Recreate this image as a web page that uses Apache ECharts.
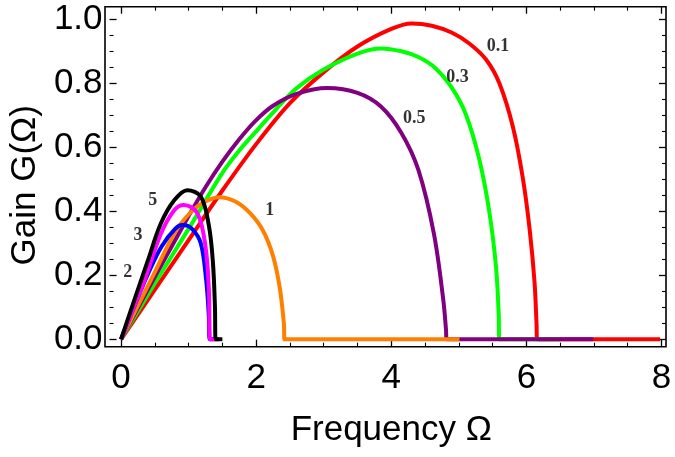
<!DOCTYPE html>
<html>
<head>
<meta charset="utf-8">
<script src="https://cdn.jsdelivr.net/npm/echarts@6/dist/echarts.min.js"></script>
<style>
  html, body { margin: 0; padding: 0; background: #fff; }
  #main { width: 675px; height: 457px; }
</style>
</head>
<body>
<div id="main"></div>
<script>
// gain curves: [frequency, gain]
var g01 = [[0,0],[0.5,0.155],[1,0.31],[1.5,0.465],[2,0.61],[2.5,0.738],[3,0.835],[3.5,0.915],[4,0.97],[4.3,0.987],[4.6,0.98],[4.9,0.958],[5.15,0.925],[5.4,0.875],[5.6,0.8],[5.8,0.664],[5.95,0.5],[6.05,0.34],[6.12,0.18],[6.15,0.05],[6.16,0],[7.98,0]];
var g03 = [[0,0],[0.5,0.175],[1,0.345],[1.5,0.52],[1.75,0.59],[2,0.65],[2.3,0.72],[2.6,0.785],[3,0.843],[3.5,0.893],[3.85,0.909],[4.15,0.9],[4.4,0.882],[4.65,0.848],[4.9,0.785],[5.1,0.705],[5.3,0.565],[5.45,0.4],[5.55,0.227],[5.59,0.08],[5.6,0],[6.5,0]];
var g05 = [[0,0],[0.5,0.195],[1,0.385],[1.25,0.475],[1.5,0.555],[1.75,0.625],[2,0.685],[2.25,0.73],[2.6,0.767],[3.05,0.785],[3.5,0.77],[3.85,0.727],[4.15,0.645],[4.4,0.53],[4.63,0.331],[4.77,0.123],[4.81,0.03],[4.82,0],[6.99,0]];
var g1 = [[0,0],[0.5,0.21],[0.8,0.335],[1.0,0.39],[1.2,0.425],[1.45,0.444],[1.7,0.43],[1.91,0.394],[2.1,0.34],[2.25,0.26],[2.35,0.16],[2.41,0.05],[2.42,0],[5.01,0]];
var g2 = [[0,0],[0.2,0.105],[0.4,0.205],[0.6,0.29],[0.8,0.345],[0.91,0.357],[1.05,0.345],[1.18,0.3],[1.26,0.185],[1.3,0.07],[1.31,0],[1.4,0]];
var g3 = [[0,0],[0.2,0.106],[0.35,0.185],[0.59,0.33],[0.79,0.404],[0.93,0.42],[1.13,0.394],[1.25,0.29],[1.3,0.154],[1.32,0],[1.45,0]];
var g5 = [[0,0],[0.2,0.125],[0.4,0.248],[0.59,0.3625],[0.79,0.435],[0.98,0.466],[1.18,0.446],[1.3,0.355],[1.36,0.24],[1.39,0.1],[1.4,0],[1.5,0]];

var curveNames = ['0.1', '0.3', '0.5', '1', '2', '3', '5'];
var curveColors = ['#ff0000', '#00ff00', '#800080', '#ff8000', '#0000ff', '#ff00ff', '#000000'];
var curves = [g01, g03, g05, g1, g2, g3, g5];

// curve labels placed in data coordinates
var labelText = ['0.1', '0.3', '0.5', '1', '5', '3', '2'];
var labelX = [5.58, 4.98, 4.34, 2.2, 0.47, 0.25, 0.10];
var labelY = [0.914, 0.82, 0.69, 0.404, 0.435, 0.325, 0.21];

var xTicks = { min: 0, max: 8, interval: 2 };
var yTicks = { min: 0, max: 1, interval: 0.2 };

var chart = echarts.init(document.getElementById('main'));

var font = 'Liberation Sans, Arial, sans-serif';
var tickStyle = { show: true, inside: true, length: 7, lineStyle: { color: '#000', width: 1.3 } };
var minorStyle = { show: true, splitNumber: 4, length: 4, lineStyle: { color: '#000', width: 1.1 } };
// axis lines come from the frame grid; onZero off so offsets apply to the ticks too
var noLine = { show: false, onZero: false };

var series = [];
for (var i = 0; i < curves.length; i++) {
  series.push({
    name: curveNames[i],
    type: 'line',
    data: curves[i],
    showSymbol: false,
    smooth: 0.35,
    clip: false,
    lineStyle: { color: curveColors[i], width: 4 },
    itemStyle: { color: curveColors[i] }
  });
}
var labelData = [];
for (var k = 0; k < labelText.length; k++) {
  labelData.push({ name: labelText[k], value: [labelX[k], labelY[k]] });
}
series.push({
  type: 'scatter',
  data: labelData,
  symbolSize: 0,
  silent: true,
  z: 5,
  label: {
    show: true,
    position: 'inside',
    formatter: '{b}',
    color: '#000',
    fontFamily: 'Liberation Serif, Times New Roman, serif',
    fontWeight: 'bold',
    fontSize: 18
  }
});

var option = {
  animation: false,
  backgroundColor: '#fff',
  grid: [
    { left: 116.5, right: 13.5, top: 19.3, bottom: 117.7 },
    // plot frame
    { left: 105, right: 9, top: 6.7, bottom: 110.3, show: true, borderColor: '#000', borderWidth: 1.6, backgroundColor: 'transparent' }
  ],
  xAxis: [
    {
      type: 'value', gridIndex: 0, position: 'bottom', offset: 7.4,
      min: xTicks.min, max: xTicks.max, interval: xTicks.interval,
      name: 'Frequency Ω', nameLocation: 'middle', nameGap: 66,
      nameTextStyle: { fontFamily: font, fontSize: 35, color: '#000' },
      axisLine: noLine,
      axisTick: tickStyle, minorTick: minorStyle,
      splitLine: { show: false },
      axisLabel: { fontFamily: font, fontSize: 35, color: '#000', margin: 14 }
    },
    {
      type: 'value', gridIndex: 0, position: 'top', offset: 12.6,
      min: xTicks.min, max: xTicks.max, interval: xTicks.interval,
      axisLine: noLine,
      axisTick: tickStyle, minorTick: minorStyle,
      splitLine: { show: false },
      axisLabel: { show: false }
    }
  ],
  yAxis: [
    {
      type: 'value', gridIndex: 0, position: 'left', offset: 11.5,
      min: yTicks.min, max: yTicks.max, interval: yTicks.interval,
      name: 'Gain G(Ω)', nameLocation: 'middle', nameGap: 66, nameRotate: 90,
      nameTextStyle: { fontFamily: font, fontSize: 35, color: '#000', padding: [0, 12, 0, 0] },
      axisLine: noLine,
      axisTick: tickStyle, minorTick: minorStyle,
      splitLine: { show: false },
      axisLabel: { fontFamily: font, fontSize: 35, color: '#000', margin: 7,
        formatter: function (v) { return v.toFixed(1); } }
    },
    {
      type: 'value', gridIndex: 0, position: 'right', offset: 4.5,
      min: yTicks.min, max: yTicks.max, interval: yTicks.interval,
      axisLine: noLine,
      axisTick: tickStyle, minorTick: minorStyle,
      splitLine: { show: false },
      axisLabel: { show: false }
    }
  ],
  series: series
};

chart.setOption(option);
</script>
</body>
</html>
